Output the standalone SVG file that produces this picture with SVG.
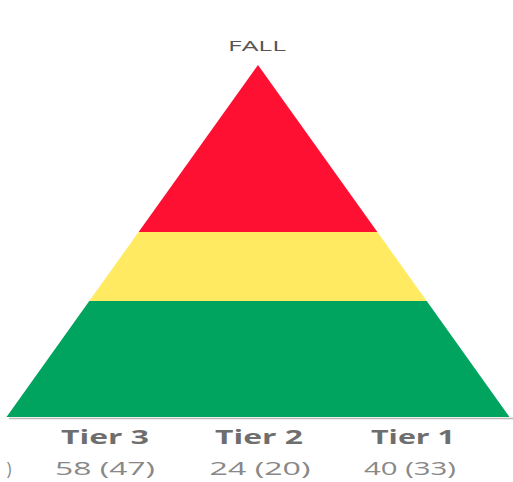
<svg xmlns="http://www.w3.org/2000/svg" width="513" height="482" viewBox="0 0 513 482">
<style>
.t{font-family:"Open Sans","Liberation Sans",sans-serif;text-anchor:middle}
.tier{font-size:19px;font-weight:bold;fill:#6e6e6e}
.num{font-size:19px;fill:#888}
.ttl{font-size:14px;fill:#555}
</style>
<rect width="513" height="482" fill="#fff"/>
<g id="title"><text class="t ttl" x="257" y="51" textLength="58" lengthAdjust="spacingAndGlyphs">FALL</text></g>
<g id="pyramid">
<g id="tier-red"><polygon points="258,65 377.4,232 138.6,232" fill="#FE1033"/></g>
<g id="tier-yellow"><polygon points="138.6,232 377.4,232 426.7,301 89.3,301" fill="#FFEA62"/></g>
<g id="tier-green"><polygon points="89.3,301 426.7,301 509.5,417 6.5,417" fill="#00A45F"/></g>
</g>
<g id="connectors"><line x1="9" y1="418.5" x2="513" y2="418.5" stroke="#b8b8b8" stroke-width="1.5"/></g>
<g id="label-tier3">
<text class="t tier" x="105" y="444" textLength="88" lengthAdjust="spacingAndGlyphs">Tier 3</text>
<text class="t num" x="105" y="474.5" textLength="100" lengthAdjust="spacingAndGlyphs">58 (47)</text>
</g>
<g id="label-tier2">
<text class="t tier" x="259" y="444" textLength="88" lengthAdjust="spacingAndGlyphs">Tier 2</text>
<text class="t num" x="260" y="474.5" textLength="101" lengthAdjust="spacingAndGlyphs">24 (20)</text>
</g>
<g id="label-tier1">
<text class="t tier" x="413" y="444" textLength="84" lengthAdjust="spacingAndGlyphs">Tier 1</text>
<text class="t num" x="410" y="474.5" textLength="92" lengthAdjust="spacingAndGlyphs">40 (33)</text>
</g>
<g id="clipped"><text class="t num" x="9" y="474.5" textLength="5" lengthAdjust="spacingAndGlyphs">)</text></g>
</svg>
